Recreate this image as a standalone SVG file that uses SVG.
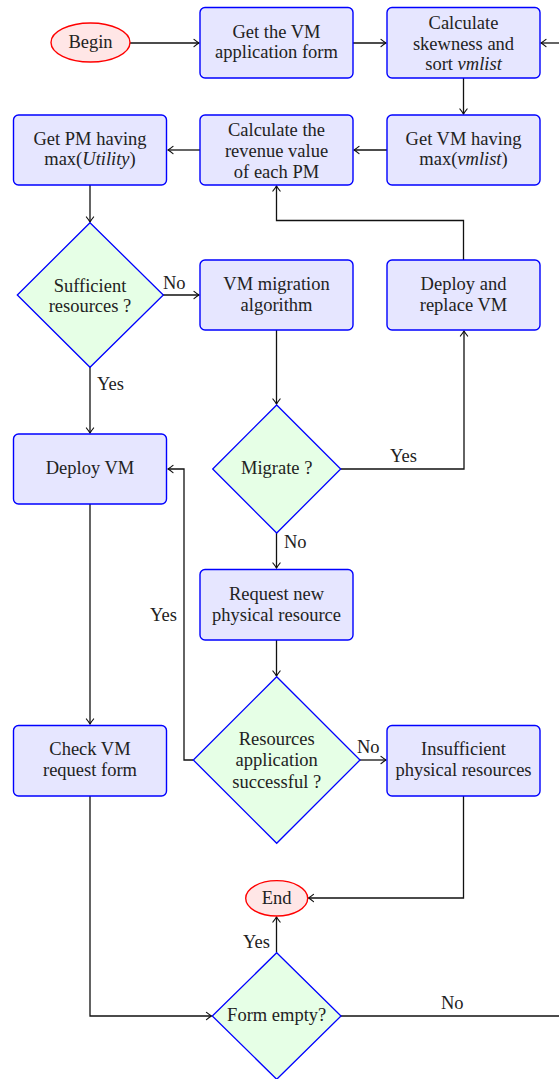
<svg xmlns="http://www.w3.org/2000/svg" width="559" height="1079" viewBox="0 0 559 1079">
<defs>
<style>
text{font-family:"Liberation Serif","Times New Roman",serif;font-size:18.5px;fill:#222;}
.c{text-anchor:middle;}
.box{fill:#e6e6ff;stroke:#0000ff;stroke-width:1.4;}
.dia{fill:#e6ffe6;stroke:#0000ff;stroke-width:1.3;}
.term{fill:#ffe6e6;stroke:#ff0000;stroke-width:1.4;}
.ln{fill:none;stroke:#111;stroke-width:1.3;}
.it{font-style:italic;}
</style>
<marker id="ar" markerUnits="userSpaceOnUse" markerWidth="12" markerHeight="12" viewBox="-8 -6 10 12" refX="0" refY="0" orient="auto">
<path d="M-5,-3.6 Q-1.5,-0.8 0,0 Q-1.5,0.8 -5,3.6" fill="none" stroke="#111" stroke-width="1.2" stroke-linecap="round"/>
</marker>
</defs>
<rect width="559" height="1079" fill="#fff"/>
<g id="connectors">
<path class="ln" d="M130,43 H199" marker-end="url(#ar)"/>
<path class="ln" d="M353,43 H386" marker-end="url(#ar)"/>
<path class="ln" d="M559,43 H541" marker-end="url(#ar)"/>
<path class="ln" d="M463.5,78 V114" marker-end="url(#ar)"/>
<path class="ln" d="M387,150 H354" marker-end="url(#ar)"/>
<path class="ln" d="M200,150 H168" marker-end="url(#ar)"/>
<path class="ln" d="M90,185 V222" marker-end="url(#ar)"/>
<path class="ln" d="M163,295 H199" marker-end="url(#ar)"/>
<path class="ln" d="M463.5,260 V220.5 H276.5 V186" marker-end="url(#ar)"/>
<path class="ln" d="M276.5,330 V404" marker-end="url(#ar)"/>
<path class="ln" d="M90,367 V433" marker-end="url(#ar)"/>
<path class="ln" d="M340.5,469 H464 V331" marker-end="url(#ar)"/>
<path class="ln" d="M276.5,533 V568" marker-end="url(#ar)"/>
<path class="ln" d="M276.5,640 V676" marker-end="url(#ar)"/>
<path class="ln" d="M193,760 H184 V469 H168" marker-end="url(#ar)"/>
<path class="ln" d="M360,760 H386" marker-end="url(#ar)"/>
<path class="ln" d="M90,504 V724" marker-end="url(#ar)"/>
<path class="ln" d="M463.5,796 V898 H308.5" marker-end="url(#ar)"/>
<path class="ln" d="M90,796 V1016 H211.5" marker-end="url(#ar)"/>
<path class="ln" d="M276.5,952.5 V917" marker-end="url(#ar)"/>
<path class="ln" d="M341,1016 H559"/>
<text x="163" y="289">No</text>
<text x="97" y="390">Yes</text>
<text x="390" y="462">Yes</text>
<text x="284" y="548">No</text>
<text x="177" y="621" text-anchor="end">Yes</text>
<text x="357" y="753">No</text>
<text x="270" y="948" text-anchor="end">Yes</text>
<text x="441" y="1009">No</text>
</g>
<g id="begin">
<ellipse class="term" cx="90.5" cy="42.5" rx="39.5" ry="19.5"/>
<text class="c" x="90.5" y="48">Begin</text>
</g>
<g id="getform">
<rect class="box" x="200" y="7.5" width="153" height="70.5" rx="5"/>
<text class="c" x="276.5" y="38">Get the VM</text>
<text class="c" x="276.5" y="58">application form</text>
</g>
<g id="skewness">
<rect class="box" x="387" y="7.5" width="153" height="70.5" rx="5"/>
<text class="c" x="463.5" y="28.5">Calculate</text>
<text class="c" x="463.5" y="49.5">skewness and</text>
<text class="c" x="463.5" y="70">sort <tspan class="it">vmlist</tspan></text>
</g>
<g id="getpm">
<rect class="box" x="13.5" y="115" width="153" height="70" rx="5"/>
<text class="c" x="90" y="144.5">Get PM having</text>
<text class="c" x="90" y="165">max(<tspan class="it">Utility</tspan>)</text>
</g>
<g id="revenue">
<rect class="box" x="200" y="115" width="153" height="70" rx="5"/>
<text class="c" x="276.5" y="136">Calculate the</text>
<text class="c" x="276.5" y="157">revenue value</text>
<text class="c" x="276.5" y="178">of each PM</text>
</g>
<g id="getvm">
<rect class="box" x="387" y="115" width="153" height="70" rx="5"/>
<text class="c" x="463.5" y="144.5">Get VM having</text>
<text class="c" x="463.5" y="165">max(<tspan class="it">vmlist</tspan>)</text>
</g>
<g id="sufficient">
<polygon class="dia" points="90,222.7 163.3,295 90,367.3 17.3,295"/>
<text class="c" x="90" y="292">Sufficient</text>
<text class="c" x="90" y="312">resources ?</text>
</g>
<g id="migration">
<rect class="box" x="200" y="260" width="153" height="70" rx="5"/>
<text class="c" x="276.5" y="290">VM migration</text>
<text class="c" x="276.5" y="310.5">algorithm</text>
</g>
<g id="deployreplace">
<rect class="box" x="387" y="260" width="153" height="70" rx="5"/>
<text class="c" x="463.5" y="290">Deploy and</text>
<text class="c" x="463.5" y="310.5">replace VM</text>
</g>
<g id="migrate">
<polygon class="dia" points="276.7,405 340.7,469 276.7,533 212.7,469"/>
<text class="c" x="276.7" y="474">Migrate ?</text>
</g>
<g id="deployvm">
<rect class="box" x="13.5" y="434" width="153" height="70" rx="5"/>
<text class="c" x="90" y="474">Deploy VM</text>
</g>
<g id="request">
<rect class="box" x="200" y="569.5" width="153" height="70.5" rx="5"/>
<text class="c" x="276.5" y="600">Request new</text>
<text class="c" x="276.5" y="620.5">physical resource</text>
</g>
<g id="resources">
<polygon class="dia" points="276.7,676.7 360,760 276.7,843.3 193.3,760"/>
<text class="c" x="276.7" y="745">Resources</text>
<text class="c" x="276.7" y="766">application</text>
<text class="c" x="276.7" y="787.5">successful ?</text>
</g>
<g id="checkvm">
<rect class="box" x="13.5" y="725.5" width="153" height="70.5" rx="5"/>
<text class="c" x="90" y="755">Check VM</text>
<text class="c" x="90" y="775.5">request form</text>
</g>
<g id="insufficient">
<rect class="box" x="387" y="725.5" width="153" height="70.5" rx="5"/>
<text class="c" x="463.5" y="755">Insufficient</text>
<text class="c" x="463.5" y="775.5">physical resources</text>
</g>
<g id="end">
<ellipse class="term" cx="276.7" cy="898.3" rx="31" ry="17.7"/>
<text class="c" x="276.7" y="904">End</text>
</g>
<g id="formempty">
<polygon class="dia" points="276.7,952.7 341,1016 276.7,1079.3 212.3,1016"/>
<text class="c" x="276.7" y="1021">Form empty?</text>
</g>
</svg>
